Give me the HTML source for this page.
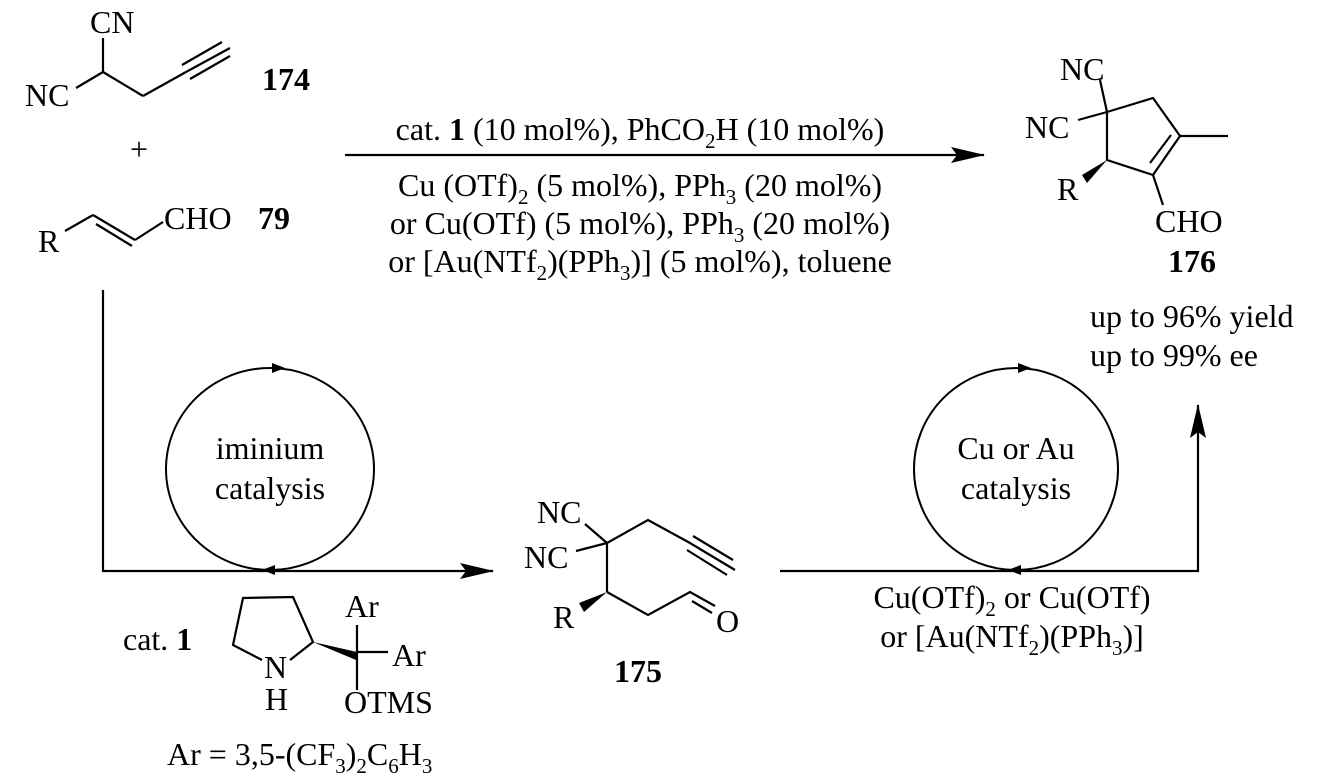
<!DOCTYPE html>
<html><head><meta charset="utf-8"><style>
html,body{margin:0;padding:0;background:#fff}
svg{display:block}
text{font-family:"Liberation Serif",serif;font-size:32px;fill:#000}
.b{font-weight:bold}
</style></head><body>
<svg width="1332" height="780" viewBox="0 0 1332 780" xmlns="http://www.w3.org/2000/svg">
<defs>
<marker id="bah" markerWidth="34" markerHeight="16" refX="33" refY="8" orient="auto" markerUnits="userSpaceOnUse">
<path d="M0,0 L34,8 L0,16 L6,8 Z" fill="#000"/></marker>
</defs>
<g stroke="#000" stroke-width="2.2" fill="none">
<!-- 174 -->
<line x1="103" y1="38" x2="103" y2="72"/>
<line x1="76" y1="88" x2="103" y2="72"/>
<line x1="103" y1="72" x2="143" y2="96"/>
<line x1="143" y1="96" x2="186" y2="72"/>
<line x1="186" y1="72" x2="230" y2="48"/>
<line x1="182" y1="65" x2="222" y2="42"/>
<line x1="190" y1="79" x2="230" y2="56"/>
<!-- 79 -->
<line x1="65" y1="231" x2="93" y2="215"/>
<line x1="93" y1="215" x2="135" y2="240"/>
<line x1="96" y1="224" x2="132" y2="246"/>
<line x1="135" y1="240" x2="163" y2="222"/>
<!-- 176 -->
<line x1="1100" y1="80" x2="1107" y2="112"/>
<line x1="1078" y1="120" x2="1107" y2="112"/>
<polyline points="1107,112 1153,98 1180,136 1153,175 1107,160 1107,112"/>
<line x1="1150" y1="163" x2="1171" y2="135"/>
<line x1="1180" y1="136" x2="1228" y2="136"/>
<line x1="1153" y1="175" x2="1163" y2="205"/>
<!-- 175 -->
<line x1="585" y1="524" x2="607" y2="543"/>
<line x1="576" y1="551" x2="607" y2="543"/>
<polyline points="607,543 648,520 690,543 735,570"/>
<line x1="693" y1="536" x2="733" y2="560"/>
<line x1="687" y1="550" x2="727" y2="575"/>
<line x1="607" y1="543" x2="607" y2="592"/>
<polyline points="607,592 648,615 690,592 715,606"/>
<line x1="692" y1="601" x2="712" y2="613"/>
<!-- cat 1 -->
<polyline points="262,660 233,645 243,598 293,597 313,642 290,660"/>
<line x1="357" y1="625" x2="357" y2="690"/>
<line x1="357" y1="652" x2="388" y2="652"/>
<!-- flow lines -->
<polyline points="103,290 103,571 493,571" marker-end="url(#bah)"/>
<polyline points="780,571 1198,571 1198,405" marker-end="url(#bah)"/>
<line x1="345" y1="155" x2="984" y2="155" marker-end="url(#bah)"/>
<!-- circles -->
<ellipse cx="270" cy="469" rx="104" ry="101" stroke-width="2"/>
<ellipse cx="1016" cy="469" rx="102" ry="101" stroke-width="2"/>
</g>
<g fill="#000">
<polygon points="1107,160 1082,175 1087,183"/>
<polygon points="607,592 579,603 584,612"/>
<polygon points="313,642 357,652 356,660"/>
<polygon points="285,368 272,363 272,373"/>
<polygon points="262,570 275,565 275,575"/>
<polygon points="1031,368 1018,363 1018,373"/>
<polygon points="1008,570 1021,565 1021,575"/>
</g>
<!-- labels -->
<text x="90" y="33">CN</text>
<text x="25" y="106">NC</text>
<text x="262" y="90" class="b">174</text>
<text x="130" y="160">+</text>
<text x="38" y="252">R</text>
<text x="164" y="229">CHO</text>
<text x="258" y="229" class="b">79</text>

<text x="640" y="140" text-anchor="middle">cat. <tspan class="b">1</tspan> (10 mol%), PhCO<tspan font-size="21" dy="8">2</tspan><tspan dy="-8">H (10 mol%)</tspan></text>
<text x="640" y="196" text-anchor="middle">Cu (OTf)<tspan font-size="21" dy="8">2</tspan><tspan dy="-8"> (5 mol%), PPh</tspan><tspan font-size="21" dy="8">3</tspan><tspan dy="-8"> (20 mol%)</tspan></text>
<text x="640" y="234" text-anchor="middle">or Cu(OTf) (5 mol%), PPh<tspan font-size="21" dy="8">3</tspan><tspan dy="-8"> (20 mol%)</tspan></text>
<text x="640" y="272" text-anchor="middle">or [Au(NTf<tspan font-size="21" dy="8">2</tspan><tspan dy="-8">)(PPh</tspan><tspan font-size="21" dy="8">3</tspan><tspan dy="-8">)] (5 mol%), toluene</tspan></text>

<text x="1060" y="80">NC</text>
<text x="1025" y="138">NC</text>
<text x="1057" y="200">R</text>
<text x="1155" y="232">CHO</text>
<text x="1168" y="272" class="b">176</text>
<text x="1090" y="327">up to 96% yield</text>
<text x="1090" y="366">up to 99% ee</text>

<text x="270" y="459" text-anchor="middle">iminium</text>
<text x="270" y="499" text-anchor="middle">catalysis</text>
<text x="1016" y="459" text-anchor="middle">Cu or Au</text>
<text x="1016" y="499" text-anchor="middle">catalysis</text>

<text x="537" y="523">NC</text>
<text x="524" y="568">NC</text>
<text x="553" y="628">R</text>
<text x="716" y="632">O</text>
<text x="614" y="682" class="b">175</text>

<text x="1012" y="608" text-anchor="middle">Cu(OTf)<tspan font-size="21" dy="8">2</tspan><tspan dy="-8"> or Cu(OTf)</tspan></text>
<text x="1012" y="647" text-anchor="middle">or [Au(NTf<tspan font-size="21" dy="8">2</tspan><tspan dy="-8">)(PPh</tspan><tspan font-size="21" dy="8">3</tspan><tspan dy="-8">)]</tspan></text>

<text x="123" y="650">cat. <tspan class="b">1</tspan></text>
<text x="264" y="678">N</text>
<text x="265" y="710">H</text>
<text x="345" y="617">Ar</text>
<text x="392" y="666">Ar</text>
<text x="344" y="713">OTMS</text>
<text x="167" y="765">Ar = 3,5-(CF<tspan font-size="21" dy="8">3</tspan><tspan dy="-8">)</tspan><tspan font-size="21" dy="8">2</tspan><tspan dy="-8">C</tspan><tspan font-size="21" dy="8">6</tspan><tspan dy="-8">H</tspan><tspan font-size="21" dy="8">3</tspan></text>
</svg>
</body></html>
